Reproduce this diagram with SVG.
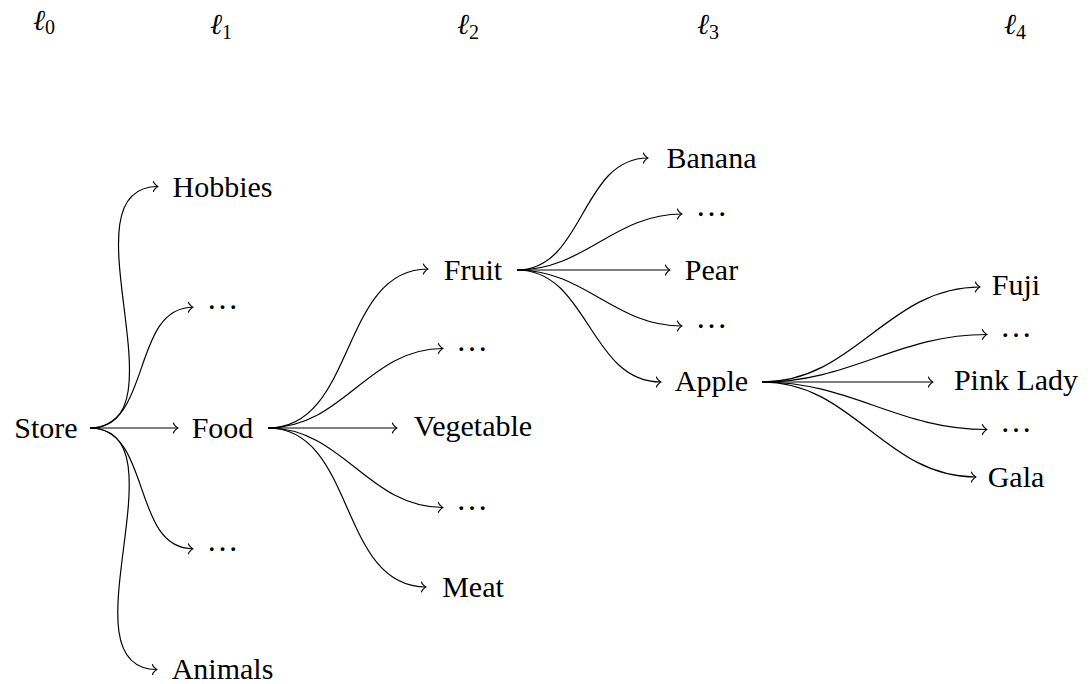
<svg xmlns="http://www.w3.org/2000/svg" width="1091" height="684" viewBox="0 0 1091 684">
  <defs>
    <!-- curved open "to" arrow tip -->
    <marker id="to" markerUnits="userSpaceOnUse" markerWidth="14" markerHeight="14" refX="0.9" refY="0" viewBox="-6 -7 14 14" orient="auto" overflow="visible">
      <path d="M-3.6,-4.8 C-3.3,-3 0,-0.3 0.9,0 C0,0.3 -3.3,3 -3.6,4.8" fill="none" stroke="#000" stroke-width="1.2" stroke-linecap="round" stroke-linejoin="round"/>
    </marker>
  </defs>

  <!-- level headings -->
  <g id="levels">
    <text font-family="Liberation Serif" font-size="29" font-style="italic" text-anchor="middle" x="44" y="30">ℓ<tspan font-size="20" font-style="normal" dy="4">0</tspan></text>
    <text font-family="Liberation Serif" font-size="29" font-style="italic" text-anchor="middle" x="221" y="34">ℓ<tspan font-size="20" font-style="normal" dy="5">1</tspan></text>
    <text font-family="Liberation Serif" font-size="29" font-style="italic" text-anchor="middle" x="468" y="34">ℓ<tspan font-size="20" font-style="normal" dy="5">2</tspan></text>
    <text font-family="Liberation Serif" font-size="29" font-style="italic" text-anchor="middle" x="708" y="34">ℓ<tspan font-size="20" font-style="normal" dy="5">3</tspan></text>
    <text font-family="Liberation Serif" font-size="29" font-style="italic" text-anchor="middle" x="1015" y="34">ℓ<tspan font-size="20" font-style="normal" dy="5">4</tspan></text>
  </g>

  <!-- connectors: out=0 / in=180 cubic curves -->
  <g id="edges" fill="none" stroke="#000" stroke-width="1.2" marker-end="url(#to)">
    <!-- Store -->
    <path d="M90,428 C188.2,428 59.8,186.5 158,186.5"/>
    <path d="M90,428 C152.1,428 130.9,307.25 193,307.25"/>
    <path d="M90,428 L178,428"/>
    <path d="M90,428 C152.1,428 130.9,548.75 193,548.75"/>
    <path d="M90,428 C188.1,428 58.9,669.5 157,669.5"/>
    <!-- Food -->
    <path d="M268,428 C356.3,428 339.7,269 428,269"/>
    <path d="M268,428 C343.3,428 367.7,348.5 443,348.5"/>
    <path d="M268,428 L397,428"/>
    <path d="M268,428 C343.3,428 367.7,507.5 443,507.5"/>
    <path d="M268,428 C355.8,428 338.2,587 426,587"/>
    <!-- Fruit -->
    <path d="M517,270 C584.5,270 580.5,158 648,158"/>
    <path d="M517,270 C585.2,270 613.8,214 682,214"/>
    <path d="M517,270 L670,270"/>
    <path d="M517,270 C585.2,270 613.8,326 682,326"/>
    <path d="M517,270 C588.9,270 589.1,382 661,382"/>
    <!-- Apple -->
    <path d="M762,382 C855.1,382 886.9,287 980,287"/>
    <path d="M762,382 C852,382 897,334.5 987,334.5"/>
    <path d="M762,382 L933,382"/>
    <path d="M762,382 C852,382 897,429.5 987,429.5"/>
    <path d="M762,382 C853.7,382 884.3,477 976,477"/>
  </g>

  <!-- level 0 -->
  <g id="n-store"><text font-family="Liberation Serif" font-size="30" text-anchor="middle" x="46" y="438">Store</text></g>

  <!-- level 1 -->
  <g id="n-hobbies"><text font-family="Liberation Serif" font-size="30" text-anchor="middle" x="222.5" y="197">Hobbies</text></g>
  <g id="n-l1-more-a"><text font-family="Liberation Serif" font-size="32" text-anchor="middle" x="222.5" y="309">…</text></g>
  <g id="n-food"><text font-family="Liberation Serif" font-size="30" text-anchor="middle" x="222.5" y="438">Food</text></g>
  <g id="n-l1-more-b"><text font-family="Liberation Serif" font-size="32" text-anchor="middle" x="222.5" y="551">…</text></g>
  <g id="n-animals"><text font-family="Liberation Serif" font-size="30" text-anchor="middle" x="222.5" y="679">Animals</text></g>

  <!-- level 2 -->
  <g id="n-fruit"><text font-family="Liberation Serif" font-size="30" text-anchor="middle" x="473" y="279.5">Fruit</text></g>
  <g id="n-l2-more-a"><text font-family="Liberation Serif" font-size="32" text-anchor="middle" x="472" y="350.5">…</text></g>
  <g id="n-vegetable"><text font-family="Liberation Serif" font-size="30" text-anchor="middle" x="473" y="436">Vegetable</text></g>
  <g id="n-l2-more-b"><text font-family="Liberation Serif" font-size="32" text-anchor="middle" x="472" y="509.5">…</text></g>
  <g id="n-meat"><text font-family="Liberation Serif" font-size="30" text-anchor="middle" x="473" y="597">Meat</text></g>

  <!-- level 3 -->
  <g id="n-banana"><text font-family="Liberation Serif" font-size="30" text-anchor="middle" x="711.5" y="168">Banana</text></g>
  <g id="n-l3-more-a"><text font-family="Liberation Serif" font-size="32" text-anchor="middle" x="711.5" y="216">…</text></g>
  <g id="n-pear"><text font-family="Liberation Serif" font-size="30" text-anchor="middle" x="711.5" y="280">Pear</text></g>
  <g id="n-l3-more-b"><text font-family="Liberation Serif" font-size="32" text-anchor="middle" x="711.5" y="328">…</text></g>
  <g id="n-apple"><text font-family="Liberation Serif" font-size="30" text-anchor="middle" x="711.5" y="390.5">Apple</text></g>

  <!-- level 4 -->
  <g id="n-fuji"><text font-family="Liberation Serif" font-size="30" text-anchor="middle" x="1016" y="294.5">Fuji</text></g>
  <g id="n-l4-more-a"><text font-family="Liberation Serif" font-size="32" text-anchor="middle" x="1016" y="336.5">…</text></g>
  <g id="n-pinklady"><text font-family="Liberation Serif" font-size="30" text-anchor="middle" x="1016" y="389.5">Pink Lady</text></g>
  <g id="n-l4-more-b"><text font-family="Liberation Serif" font-size="32" text-anchor="middle" x="1016" y="431.5">…</text></g>
  <g id="n-gala"><text font-family="Liberation Serif" font-size="30" text-anchor="middle" x="1016" y="487">Gala</text></g>
</svg>
